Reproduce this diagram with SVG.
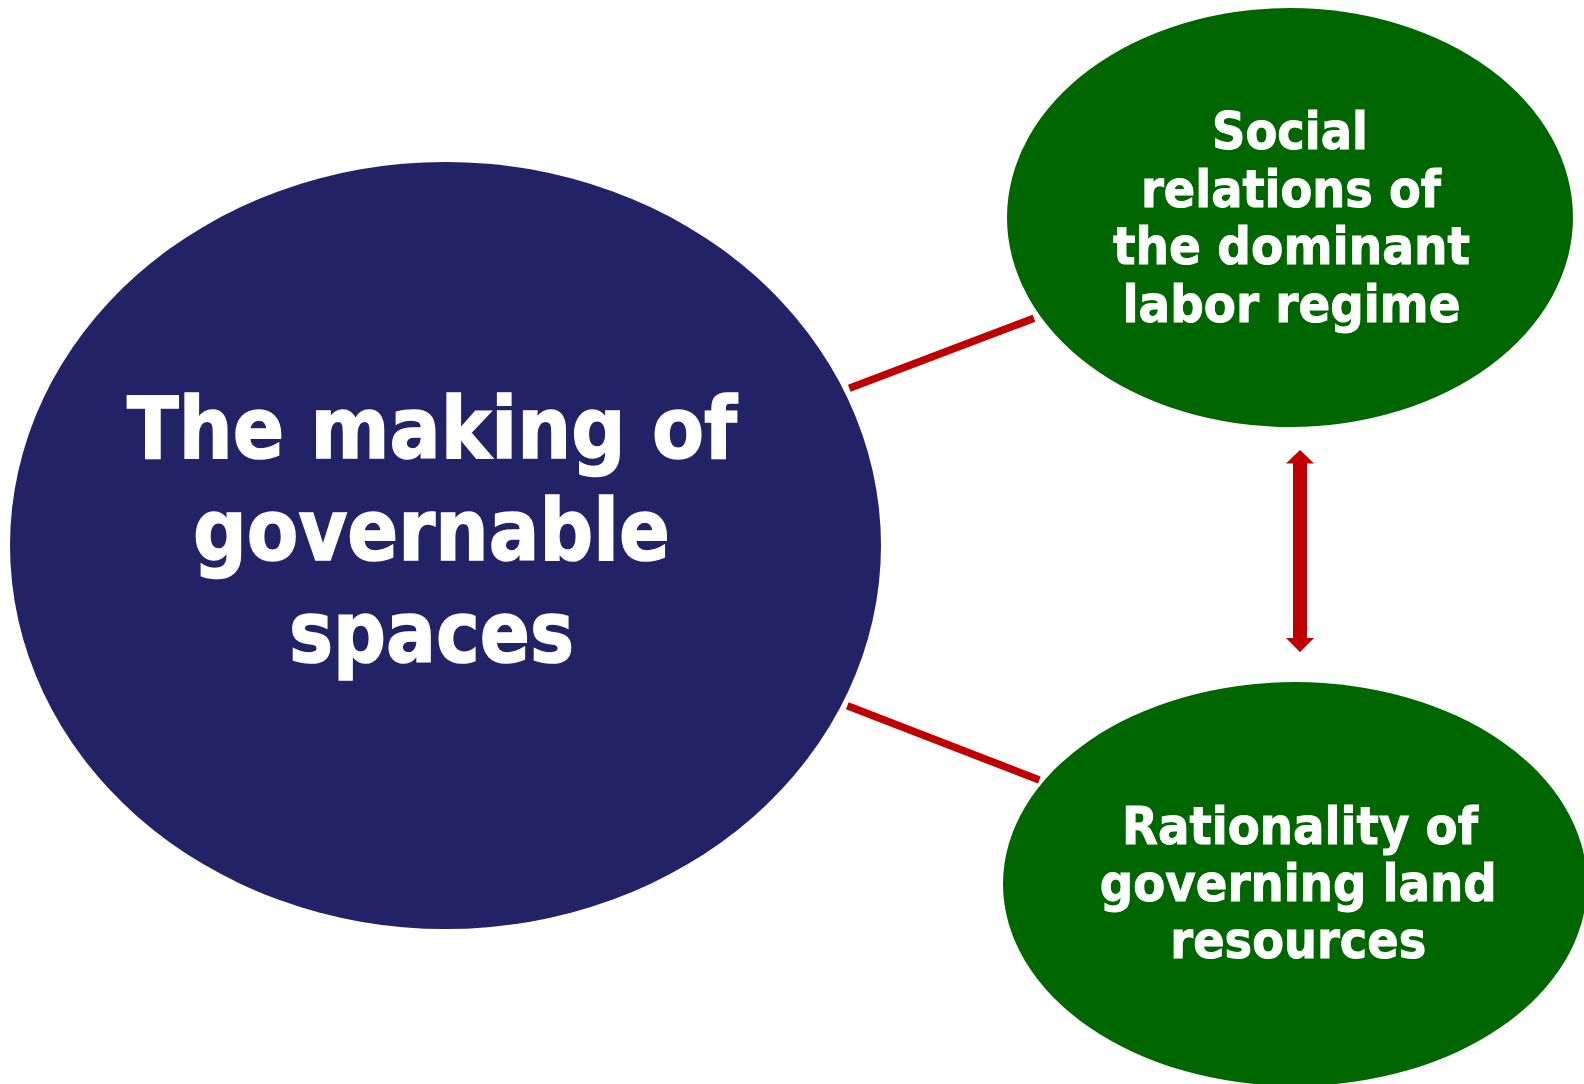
<svg xmlns="http://www.w3.org/2000/svg" width="1584" height="1084" viewBox="0 0 1584 1084">
  <style>
    .lbl { font-family: "DejaVu Sans", "Liberation Sans", sans-serif; font-weight: bold; fill: #ffffff; stroke: #ffffff; text-anchor: middle; }
    .big { font-size: 86px; stroke-width: 1.6; }
    .small { font-size: 52px; stroke-width: 1; }
    .navy { fill: #222266; }
    .green { fill: #006600; }
    .conn { stroke: #C00000; stroke-width: 7.5; stroke-linecap: butt; fill: none; }
    .arrow { fill: #C00000; }
  </style>
  <rect width="1584" height="1084" fill="#ffffff"/>
  <g id="connectors">
    <line class="conn" x1="849.3" y1="388.3" x2="1034" y2="318.3"/>
    <line class="conn" x1="847.3" y1="705.7" x2="1039.3" y2="780"/>
    <polygon class="arrow" points="1300,450 1314,463.5 1307,463.5 1307,638 1314,638 1300,652 1286,638 1293,638 1293,463.5 1286,463.5"/>
  </g>
  <g id="node-main">
    <ellipse class="navy" cx="445.5" cy="545.5" rx="435.5" ry="383.5"/>
    <text class="lbl big" x="432" y="457.5" textLength="610" lengthAdjust="spacingAndGlyphs">The making of</text>
    <text class="lbl big" x="431.5" y="559.5" textLength="477" lengthAdjust="spacingAndGlyphs">governable</text>
    <text class="lbl big" x="431.5" y="661.5" textLength="285" lengthAdjust="spacingAndGlyphs">spaces</text>
  </g>
  <g id="node-social">
    <ellipse class="green" cx="1290" cy="217.5" rx="283" ry="209.5"/>
    <text class="lbl small" x="1290" y="148.5" textLength="156" lengthAdjust="spacingAndGlyphs">Social</text>
    <text class="lbl small" x="1291" y="206.5" textLength="300" lengthAdjust="spacingAndGlyphs">relations of</text>
    <text class="lbl small" x="1291.5" y="264" textLength="357" lengthAdjust="spacingAndGlyphs">the dominant</text>
    <text class="lbl small" x="1291.5" y="321.5" textLength="338" lengthAdjust="spacingAndGlyphs">labor regime</text>
  </g>
  <g id="node-rationality">
    <ellipse class="green" cx="1295" cy="884" rx="292" ry="202"/>
    <text class="lbl small" x="1300" y="844" textLength="356" lengthAdjust="spacingAndGlyphs">Rationality of</text>
    <text class="lbl small" x="1298.3" y="901" textLength="397" lengthAdjust="spacingAndGlyphs">governing land</text>
    <text class="lbl small" x="1298.3" y="958.3" textLength="256" lengthAdjust="spacingAndGlyphs">resources</text>
  </g>
</svg>
